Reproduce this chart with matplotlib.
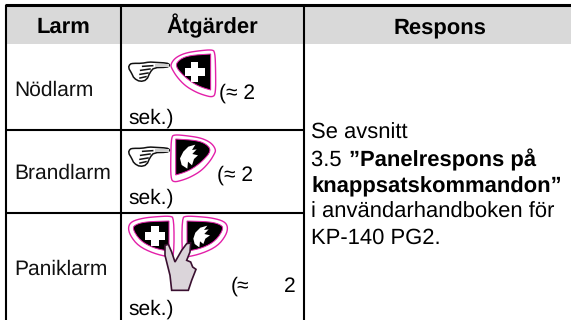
#Alarm table with keypad icons.
import matplotlib
matplotlib.use("Agg")
import matplotlib.pyplot as plt
from matplotlib.patches import Polygon, Rectangle

plt.rcParams['font.family'] = ['Liberation Sans', 'DejaVu Sans']
plt.rcParams['text.hinting'] = 'no_hinting'
plt.rcParams['text.hinting_factor'] = 1

headers = ['Larm', 'Åtgärder', 'Respons']
alarms = ['Nödlarm', 'Brandlarm', 'Paniklarm']
hold_time = '(≈ 2'
hold_unit = 'sek.)'
response_plain = ['Se avsnitt', '3.5 ', 'i användarhandboken för', 'KP-140 PG2.']
response_bold = ['”Panelrespons på', 'knappsatskommandon”']

PINK = '#e31fa9'
FS = 15.1
FS_HEAD = 16.0
FS_RESP = 16.1
FS_BOLD = 15.9


def zoomed(points, ox, oy):
    return [(ox + x / 3, oy + y / 3) for x, y in points]


def mirrored(points, cx):
    return [(2 * cx - x, y) for x, y in points]


def shifted(points, dy):
    return [(x, y + dy) for x, y in points]


def rounded(points, passes=2):
    # corner cutting, a point given twice stays sharp
    for _ in range(passes):
        out = []
        for i, p in enumerate(points):
            q = points[(i + 1) % len(points)]
            out.append((0.75 * p[0] + 0.25 * q[0], 0.75 * p[1] + 0.25 * q[1]))
            out.append((0.25 * p[0] + 0.75 * q[0], 0.25 * p[1] + 0.75 * q[1]))
        points = out
    return points


def shape(ax, points, fc='none', ec='none', lw=0.0, z=3):
    ax.add_patch(Polygon(points, closed=True, facecolor=fc, edgecolor=ec, linewidth=lw, zorder=z))


def cross(cx, cy, arm, half):
    return [(cx - half, cy - arm), (cx + half, cy - arm), (cx + half, cy - half), (cx + arm, cy - half),
            (cx + arm, cy + half), (cx + half, cy + half), (cx + half, cy + arm), (cx - half, cy + arm),
            (cx - half, cy + half), (cx - arm, cy + half), (cx - arm, cy - half), (cx - half, cy - half)]


def pointing_hand(ax, dy):
    hand = zoomed([(148, 58), (140, 54), (105, 52), (88, 51), (65, 55), (40, 55), (30, 57), (25, 68), (35, 85),
                   (42, 100), (60, 110), (80, 105), (90, 82), (102, 68), (140, 67), (148, 63)], 120, 45)
    shape(ax, rounded(shifted(hand, dy), 1), fc='white', ec='#111111', lw=1.1)
    ax.add_patch(Rectangle((155, 63.5 + dy), 14, 3.2, facecolor='#cfcfcf', edgecolor='none', zorder=3.5))
    for seg in [[(68, 64), (98, 62)], [(62, 76), (90, 72)], [(60, 88), (84, 84)], [(60, 99), (78, 95)]]:
        pts = shifted(zoomed(seg, 120, 45), dy)
        ax.plot([p[0] for p in pts], [p[1] for p in pts], color='#111111', lw=1.1, zorder=4)


def main():
    fig = plt.figure(figsize=(5.71, 3.2), dpi=100)
    ax = fig.add_axes([0, 0, 1, 1])
    ax.set_xlim(0, 571)
    ax.set_ylim(320, 0)
    ax.axis('off')

    # table frame
    ax.add_patch(Rectangle((6, 5), 565, 39, facecolor='#d9d9d9', edgecolor='none', zorder=1))
    ax.plot([5, 571], [5, 5], color='black', lw=2.2, zorder=2, solid_capstyle='butt')
    for x in [6, 120.5, 303.5]:
        ax.plot([x, x], [5, 320], color='black', lw=1.5, zorder=2, solid_capstyle='butt')
    for y in [129.5, 212.5]:
        ax.plot([6, 303.5], [y, y], color='black', lw=1.5, zorder=2, solid_capstyle='butt')

    # header
    for name, x in zip(headers, [63, 212, 440]):
        ax.text(x, 33, name, ha='center', va='baseline', fontsize=FS_HEAD, fontweight='bold')

    # first column
    for name, y in zip(alarms, [96, 179, 275]):
        ax.text(14, y, name, ha='left', va='baseline', fontsize=FS, color='#111111')

    # action column text
    ax.text(219, 99, hold_time, fontsize=FS, va='baseline')
    ax.text(128, 124, hold_unit, fontsize=FS, va='baseline')
    ax.text(217, 181, hold_time, fontsize=FS, va='baseline')
    ax.text(128, 204, hold_unit, fontsize=FS, va='baseline')
    ax.text(231, 292, hold_time[:2], fontsize=FS, va='baseline')
    ax.text(284, 292, hold_time[-1], fontsize=FS, va='baseline')
    ax.text(128, 315, hold_unit, fontsize=FS, va='baseline')

    # response column
    ax.text(311, 139, response_plain[0], fontsize=FS_RESP, va='baseline')
    ax.text(311, 166, response_plain[1], fontsize=FS_RESP, va='baseline')
    ax.text(349, 166, response_bold[0], fontsize=FS_BOLD, va='baseline', fontweight='bold')
    ax.text(311, 192, response_bold[1], fontsize=FS_BOLD, va='baseline', fontweight='bold')
    ax.text(311, 218, response_plain[2], fontsize=FS_RESP, va='baseline')
    ax.text(311, 244, response_plain[3], fontsize=FS_RESP, va='baseline')

    # first two buttons
    outer = rounded(zoomed([(152, 60), (160, 45), (175, 33), (200, 23), (240, 17), (275, 14), (285, 20), (287, 80),
                            (287, 145), (278, 157), (250, 150), (225, 140), (195, 122), (170, 95), (155, 70)],
                           120, 45))
    inner = rounded(zoomed([(165, 62), (180, 42), (210, 31), (272, 27), (272, 27), (272, 135), (272, 135), (245, 127),
                            (220, 115), (190, 92)], 120, 45))
    shape(ax, outer, ec=PINK, lw=1.0)
    shape(ax, inner, fc='black', ec=PINK, lw=0.7)
    shape(ax, cross(194.5, 72, 10, 3.7), fc='white', z=4)
    pointing_hand(ax, 0)

    flame = zoomed([(226, 44), (205, 50), (190, 65), (180, 85), (185, 105), (202, 116), (204, 95), (216, 106),
                    (222, 87), (234, 76), (217, 72), (230, 58), (216, 60)], 120, 130)
    shape(ax, shifted(mirrored(outer, 193.2), 85), ec=PINK, lw=1.0)
    shape(ax, shifted(mirrored(inner, 193.2), 85), fc='black', ec=PINK, lw=0.7)
    shape(ax, flame, fc='white', z=4)
    pointing_hand(ax, 85)

    # paired buttons and hand
    left_outer = rounded(zoomed([(24, 45), (35, 28), (70, 18), (110, 14), (150, 12), (162, 18), (162, 132), (150, 136),
                                 (100, 124), (55, 102), (30, 70)], 120, 212))
    left_inner = rounded(zoomed([(36, 48), (50, 36), (80, 29), (147, 27), (147, 27), (147, 118), (147, 118), (100, 108),
                                 (60, 86)], 120, 212))
    shape(ax, left_outer, ec=PINK, lw=1.0)
    shape(ax, left_inner, fc='black', ec=PINK, lw=0.7)
    shape(ax, mirrored(left_outer, 178), ec=PINK, lw=1.0)
    shape(ax, mirrored(left_inner, 178), fc='black', ec=PINK, lw=0.7)
    shape(ax, cross(155, 236, 10, 3.7), fc='white', z=4)
    shape(ax, shifted(zoomed([(262, 41), (241, 47), (226, 62), (220, 80), (224, 96), (238, 106), (240, 88), (250, 96),
                              (256, 80), (270, 70), (253, 66), (266, 52), (252, 54)], 120, 130), 82), fc='white', z=4)
    fingers = zoomed([(135, 100), (145, 97), (155, 120), (165, 150), (185, 115), (200, 95), (212, 93), (210, 120),
                      (200, 145), (212, 150), (218, 165), (228, 172), (215, 205), (205, 235), (155, 235), (150, 190),
                      (135, 130)], 120, 212)
    shape(ax, fingers, fc='#dbd5da', ec='#3a1030', lw=1.2, z=5)

    fig.savefig('out.png', dpi=100)


if __name__ == "__main__":
    main()
